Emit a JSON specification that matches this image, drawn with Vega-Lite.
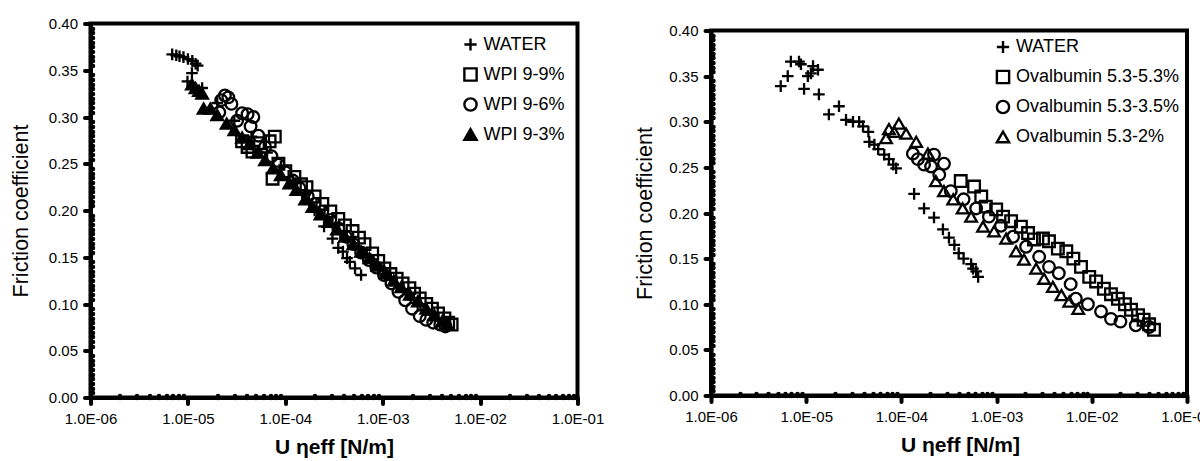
{
  "$schema": "https://vega.github.io/schema/vega-lite/v6.json",
  "background": "white",
  "padding": {"left": 7.5, "top": 14.5, "right": 0, "bottom": 0},
  "spacing": 25.5,
  "config": {
    "font": "Liberation Sans",
    "view": {"stroke": "black", "strokeWidth": 4}
  },
  "datasets": {
    "left": [
      {"series": "WATER", "u": 6.9e-6, "f": 0.367}, {"series": "WATER", "u": 7.6e-6, "f": 0.366}, {"series": "WATER", "u": 8.2e-6, "f": 0.365}, {"series": "WATER", "u": 9.0e-6, "f": 0.364}, {"series": "WATER", "u": 1.0e-5, "f": 0.362}, {"series": "WATER", "u": 1.11e-5, "f": 0.36}, {"series": "WATER", "u": 1.2e-5, "f": 0.357}, {"series": "WATER", "u": 1.26e-5, "f": 0.355}, {"series": "WATER", "u": 1.1e-5, "f": 0.347}, {"series": "WATER", "u": 9.9e-6, "f": 0.338}, {"series": "WATER", "u": 1.4e-5, "f": 0.331}, {"series": "WATER", "u": 2.0e-5, "f": 0.315}, {"series": "WATER", "u": 3.0e-5, "f": 0.296}, {"series": "WATER", "u": 4.5e-5, "f": 0.279}, {"series": "WATER", "u": 6.5e-5, "f": 0.262}, {"series": "WATER", "u": 9.0e-5, "f": 0.247}, {"series": "WATER", "u": 1.2e-4, "f": 0.232}, {"series": "WATER", "u": 1.6e-4, "f": 0.217}, {"series": "WATER", "u": 2.0e-4, "f": 0.2}, {"series": "WATER", "u": 2.5e-4, "f": 0.183}, {"series": "WATER", "u": 3.05e-4, "f": 0.17}, {"series": "WATER", "u": 3.5e-4, "f": 0.16}, {"series": "WATER", "u": 3.9e-4, "f": 0.156}, {"series": "WATER", "u": 4.3e-4, "f": 0.149}, {"series": "WATER", "u": 4.6e-4, "f": 0.145}, {"series": "WATER", "u": 5.2e-4, "f": 0.138}, {"series": "WATER", "u": 6.0e-4, "f": 0.131},
      {"series": "WPI 9-9%", "u": 3.6e-5, "f": 0.274}, {"series": "WPI 9-9%", "u": 4.1e-5, "f": 0.268}, {"series": "WPI 9-9%", "u": 4.6e-5, "f": 0.263}, {"series": "WPI 9-9%", "u": 5.5e-5, "f": 0.272}, {"series": "WPI 9-9%", "u": 6.9e-5, "f": 0.274}, {"series": "WPI 9-9%", "u": 7.8e-5, "f": 0.279}, {"series": "WPI 9-9%", "u": 7.4e-5, "f": 0.234}, {"series": "WPI 9-9%", "u": 8.5e-5, "f": 0.25}, {"series": "WPI 9-9%", "u": 1.0e-4, "f": 0.242}, {"series": "WPI 9-9%", "u": 1.24e-4, "f": 0.236}, {"series": "WPI 9-9%", "u": 1.45e-4, "f": 0.228}, {"series": "WPI 9-9%", "u": 1.65e-4, "f": 0.225}, {"series": "WPI 9-9%", "u": 2.0e-4, "f": 0.215}, {"series": "WPI 9-9%", "u": 2.4e-4, "f": 0.207}, {"series": "WPI 9-9%", "u": 2.9e-4, "f": 0.199}, {"series": "WPI 9-9%", "u": 3.5e-4, "f": 0.191}, {"series": "WPI 9-9%", "u": 4.1e-4, "f": 0.184}, {"series": "WPI 9-9%", "u": 4.9e-4, "f": 0.178}, {"series": "WPI 9-9%", "u": 5.7e-4, "f": 0.171}, {"series": "WPI 9-9%", "u": 6.5e-4, "f": 0.164}, {"series": "WPI 9-9%", "u": 7.8e-4, "f": 0.154}, {"series": "WPI 9-9%", "u": 9.0e-4, "f": 0.146}, {"series": "WPI 9-9%", "u": 1.04e-3, "f": 0.138}, {"series": "WPI 9-9%", "u": 1.2e-3, "f": 0.132}, {"series": "WPI 9-9%", "u": 1.39e-3, "f": 0.127}, {"series": "WPI 9-9%", "u": 1.6e-3, "f": 0.122}, {"series": "WPI 9-9%", "u": 1.88e-3, "f": 0.117}, {"series": "WPI 9-9%", "u": 2.1e-3, "f": 0.111}, {"series": "WPI 9-9%", "u": 2.4e-3, "f": 0.106}, {"series": "WPI 9-9%", "u": 2.8e-3, "f": 0.1}, {"series": "WPI 9-9%", "u": 3.2e-3, "f": 0.095}, {"series": "WPI 9-9%", "u": 3.7e-3, "f": 0.09}, {"series": "WPI 9-9%", "u": 4.3e-3, "f": 0.0845}, {"series": "WPI 9-9%", "u": 4.7e-3, "f": 0.08}, {"series": "WPI 9-9%", "u": 5.1e-3, "f": 0.078},
      {"series": "WPI 9-6%", "u": 2.2e-5, "f": 0.318}, {"series": "WPI 9-6%", "u": 2.4e-5, "f": 0.323}, {"series": "WPI 9-6%", "u": 2.6e-5, "f": 0.321}, {"series": "WPI 9-6%", "u": 2.8e-5, "f": 0.314}, {"series": "WPI 9-6%", "u": 2.1e-5, "f": 0.305}, {"series": "WPI 9-6%", "u": 3.2e-5, "f": 0.296}, {"series": "WPI 9-6%", "u": 3.6e-5, "f": 0.304}, {"series": "WPI 9-6%", "u": 4.1e-5, "f": 0.303}, {"series": "WPI 9-6%", "u": 4.7e-5, "f": 0.3}, {"series": "WPI 9-6%", "u": 4.4e-5, "f": 0.29}, {"series": "WPI 9-6%", "u": 5.3e-5, "f": 0.28}, {"series": "WPI 9-6%", "u": 6.2e-5, "f": 0.268}, {"series": "WPI 9-6%", "u": 7.2e-5, "f": 0.258}, {"series": "WPI 9-6%", "u": 8.5e-5, "f": 0.249}, {"series": "WPI 9-6%", "u": 1.0e-4, "f": 0.241}, {"series": "WPI 9-6%", "u": 1.2e-4, "f": 0.232}, {"series": "WPI 9-6%", "u": 1.4e-4, "f": 0.224}, {"series": "WPI 9-6%", "u": 1.7e-4, "f": 0.215}, {"series": "WPI 9-6%", "u": 2.0e-4, "f": 0.207}, {"series": "WPI 9-6%", "u": 2.4e-4, "f": 0.199}, {"series": "WPI 9-6%", "u": 2.9e-4, "f": 0.19}, {"series": "WPI 9-6%", "u": 3.5e-4, "f": 0.181}, {"series": "WPI 9-6%", "u": 4.2e-4, "f": 0.172}, {"series": "WPI 9-6%", "u": 5.0e-4, "f": 0.164}, {"series": "WPI 9-6%", "u": 6.0e-4, "f": 0.155}, {"series": "WPI 9-6%", "u": 7.2e-4, "f": 0.147}, {"series": "WPI 9-6%", "u": 8.6e-4, "f": 0.139}, {"series": "WPI 9-6%", "u": 1.03e-3, "f": 0.131}, {"series": "WPI 9-6%", "u": 1.23e-3, "f": 0.122}, {"series": "WPI 9-6%", "u": 1.45e-3, "f": 0.113}, {"series": "WPI 9-6%", "u": 1.7e-3, "f": 0.104}, {"series": "WPI 9-6%", "u": 2.0e-3, "f": 0.095}, {"series": "WPI 9-6%", "u": 2.4e-3, "f": 0.087}, {"series": "WPI 9-6%", "u": 2.8e-3, "f": 0.083}, {"series": "WPI 9-6%", "u": 3.3e-3, "f": 0.08}, {"series": "WPI 9-6%", "u": 3.9e-3, "f": 0.078}, {"series": "WPI 9-6%", "u": 4.4e-3, "f": 0.076},
      {"series": "WPI 9-3%", "u": 1.1e-5, "f": 0.335}, {"series": "WPI 9-3%", "u": 1.2e-5, "f": 0.331}, {"series": "WPI 9-3%", "u": 1.3e-5, "f": 0.328}, {"series": "WPI 9-3%", "u": 1.4e-5, "f": 0.325}, {"series": "WPI 9-3%", "u": 1.45e-5, "f": 0.309}, {"series": "WPI 9-3%", "u": 1.7e-5, "f": 0.309}, {"series": "WPI 9-3%", "u": 2.0e-5, "f": 0.302}, {"series": "WPI 9-3%", "u": 2.5e-5, "f": 0.293}, {"series": "WPI 9-3%", "u": 3.0e-5, "f": 0.286}, {"series": "WPI 9-3%", "u": 3.6e-5, "f": 0.278}, {"series": "WPI 9-3%", "u": 4.3e-5, "f": 0.271}, {"series": "WPI 9-3%", "u": 5.2e-5, "f": 0.262}, {"series": "WPI 9-3%", "u": 6.2e-5, "f": 0.254}, {"series": "WPI 9-3%", "u": 7.5e-5, "f": 0.245}, {"series": "WPI 9-3%", "u": 9.0e-5, "f": 0.238}, {"series": "WPI 9-3%", "u": 1.1e-4, "f": 0.229}, {"series": "WPI 9-3%", "u": 1.3e-4, "f": 0.222}, {"series": "WPI 9-3%", "u": 1.6e-4, "f": 0.212}, {"series": "WPI 9-3%", "u": 1.9e-4, "f": 0.204}, {"series": "WPI 9-3%", "u": 2.3e-4, "f": 0.196}, {"series": "WPI 9-3%", "u": 2.8e-4, "f": 0.188}, {"series": "WPI 9-3%", "u": 3.4e-4, "f": 0.18}, {"series": "WPI 9-3%", "u": 4.1e-4, "f": 0.172}, {"series": "WPI 9-3%", "u": 5.0e-4, "f": 0.164}, {"series": "WPI 9-3%", "u": 6.0e-4, "f": 0.156}, {"series": "WPI 9-3%", "u": 7.3e-4, "f": 0.149}, {"series": "WPI 9-3%", "u": 8.8e-4, "f": 0.141}, {"series": "WPI 9-3%", "u": 1.07e-3, "f": 0.133}, {"series": "WPI 9-3%", "u": 1.3e-3, "f": 0.125}, {"series": "WPI 9-3%", "u": 1.55e-3, "f": 0.118}, {"series": "WPI 9-3%", "u": 1.9e-3, "f": 0.11}, {"series": "WPI 9-3%", "u": 2.3e-3, "f": 0.103}, {"series": "WPI 9-3%", "u": 2.8e-3, "f": 0.095}, {"series": "WPI 9-3%", "u": 3.4e-3, "f": 0.088}, {"series": "WPI 9-3%", "u": 4.1e-3, "f": 0.082}, {"series": "WPI 9-3%", "u": 4.6e-3, "f": 0.078}
    ],
    "right": [
      {"series": "WATER", "u": 5.4e-6, "f": 0.339}, {"series": "WATER", "u": 6.4e-6, "f": 0.35}, {"series": "WATER", "u": 6.9e-6, "f": 0.366}, {"series": "WATER", "u": 8.4e-6, "f": 0.366}, {"series": "WATER", "u": 8.8e-6, "f": 0.363}, {"series": "WATER", "u": 9.5e-6, "f": 0.336}, {"series": "WATER", "u": 1.04e-5, "f": 0.35}, {"series": "WATER", "u": 1.12e-5, "f": 0.353}, {"series": "WATER", "u": 1.18e-5, "f": 0.361}, {"series": "WATER", "u": 1.33e-5, "f": 0.357}, {"series": "WATER", "u": 1.36e-5, "f": 0.33}, {"series": "WATER", "u": 1.73e-5, "f": 0.308}, {"series": "WATER", "u": 2.21e-5, "f": 0.317}, {"series": "WATER", "u": 2.62e-5, "f": 0.302}, {"series": "WATER", "u": 3.1e-5, "f": 0.3}, {"series": "WATER", "u": 3.6e-5, "f": 0.3}, {"series": "WATER", "u": 3.95e-5, "f": 0.295}, {"series": "WATER", "u": 4.5e-5, "f": 0.289}, {"series": "WATER", "u": 4.6e-5, "f": 0.278}, {"series": "WATER", "u": 5.2e-5, "f": 0.275}, {"series": "WATER", "u": 5.7e-5, "f": 0.27}, {"series": "WATER", "u": 6.6e-5, "f": 0.264}, {"series": "WATER", "u": 7.4e-5, "f": 0.259}, {"series": "WATER", "u": 8.2e-5, "f": 0.253}, {"series": "WATER", "u": 8.8e-5, "f": 0.249}, {"series": "WATER", "u": 1.36e-4, "f": 0.221}, {"series": "WATER", "u": 1.73e-4, "f": 0.205}, {"series": "WATER", "u": 2.2e-4, "f": 0.195}, {"series": "WATER", "u": 2.73e-4, "f": 0.182}, {"series": "WATER", "u": 3.16e-4, "f": 0.173}, {"series": "WATER", "u": 3.6e-4, "f": 0.165}, {"series": "WATER", "u": 4.0e-4, "f": 0.156}, {"series": "WATER", "u": 4.5e-4, "f": 0.15}, {"series": "WATER", "u": 5.4e-4, "f": 0.144}, {"series": "WATER", "u": 5.65e-4, "f": 0.139}, {"series": "WATER", "u": 6.1e-4, "f": 0.136}, {"series": "WATER", "u": 6.4e-4, "f": 0.13},
      {"series": "Ovalbumin 5.3-5.3%", "u": 4.2e-4, "f": 0.235}, {"series": "Ovalbumin 5.3-5.3%", "u": 5.8e-4, "f": 0.229}, {"series": "Ovalbumin 5.3-5.3%", "u": 6.9e-4, "f": 0.218}, {"series": "Ovalbumin 5.3-5.3%", "u": 7.7e-4, "f": 0.207}, {"series": "Ovalbumin 5.3-5.3%", "u": 9.9e-4, "f": 0.204}, {"series": "Ovalbumin 5.3-5.3%", "u": 1.17e-3, "f": 0.196}, {"series": "Ovalbumin 5.3-5.3%", "u": 1.42e-3, "f": 0.191}, {"series": "Ovalbumin 5.3-5.3%", "u": 1.8e-3, "f": 0.185}, {"series": "Ovalbumin 5.3-5.3%", "u": 2.14e-3, "f": 0.178}, {"series": "Ovalbumin 5.3-5.3%", "u": 2.47e-3, "f": 0.171}, {"series": "Ovalbumin 5.3-5.3%", "u": 3.07e-3, "f": 0.172}, {"series": "Ovalbumin 5.3-5.3%", "u": 3.55e-3, "f": 0.169}, {"series": "Ovalbumin 5.3-5.3%", "u": 4.4e-3, "f": 0.161}, {"series": "Ovalbumin 5.3-5.3%", "u": 5.4e-3, "f": 0.158}, {"series": "Ovalbumin 5.3-5.3%", "u": 6.4e-3, "f": 0.15}, {"series": "Ovalbumin 5.3-5.3%", "u": 7.7e-3, "f": 0.141}, {"series": "Ovalbumin 5.3-5.3%", "u": 9.4e-3, "f": 0.13}, {"series": "Ovalbumin 5.3-5.3%", "u": 1.11e-2, "f": 0.125}, {"series": "Ovalbumin 5.3-5.3%", "u": 1.34e-2, "f": 0.117}, {"series": "Ovalbumin 5.3-5.3%", "u": 1.59e-2, "f": 0.111}, {"series": "Ovalbumin 5.3-5.3%", "u": 1.88e-2, "f": 0.106}, {"series": "Ovalbumin 5.3-5.3%", "u": 2.23e-2, "f": 0.1}, {"series": "Ovalbumin 5.3-5.3%", "u": 2.58e-2, "f": 0.094}, {"series": "Ovalbumin 5.3-5.3%", "u": 3.06e-2, "f": 0.088}, {"series": "Ovalbumin 5.3-5.3%", "u": 3.5e-2, "f": 0.083}, {"series": "Ovalbumin 5.3-5.3%", "u": 4.0e-2, "f": 0.078}, {"series": "Ovalbumin 5.3-5.3%", "u": 4.5e-2, "f": 0.072},
      {"series": "Ovalbumin 5.3-3.5%", "u": 1.32e-4, "f": 0.265}, {"series": "Ovalbumin 5.3-3.5%", "u": 1.49e-4, "f": 0.259}, {"series": "Ovalbumin 5.3-3.5%", "u": 1.73e-4, "f": 0.253}, {"series": "Ovalbumin 5.3-3.5%", "u": 2.05e-4, "f": 0.251}, {"series": "Ovalbumin 5.3-3.5%", "u": 2.2e-4, "f": 0.264}, {"series": "Ovalbumin 5.3-3.5%", "u": 2.8e-4, "f": 0.254}, {"series": "Ovalbumin 5.3-3.5%", "u": 2.5e-4, "f": 0.242}, {"series": "Ovalbumin 5.3-3.5%", "u": 3.3e-4, "f": 0.224}, {"series": "Ovalbumin 5.3-3.5%", "u": 4.5e-4, "f": 0.215}, {"series": "Ovalbumin 5.3-3.5%", "u": 6.1e-4, "f": 0.205}, {"series": "Ovalbumin 5.3-3.5%", "u": 8.3e-4, "f": 0.196}, {"series": "Ovalbumin 5.3-3.5%", "u": 1.11e-3, "f": 0.186}, {"series": "Ovalbumin 5.3-3.5%", "u": 1.49e-3, "f": 0.174}, {"series": "Ovalbumin 5.3-3.5%", "u": 2.04e-3, "f": 0.163}, {"series": "Ovalbumin 5.3-3.5%", "u": 2.8e-3, "f": 0.152}, {"series": "Ovalbumin 5.3-3.5%", "u": 3.55e-3, "f": 0.141}, {"series": "Ovalbumin 5.3-3.5%", "u": 4.5e-3, "f": 0.134}, {"series": "Ovalbumin 5.3-3.5%", "u": 6.0e-3, "f": 0.122}, {"series": "Ovalbumin 5.3-3.5%", "u": 6.8e-3, "f": 0.106}, {"series": "Ovalbumin 5.3-3.5%", "u": 9.1e-3, "f": 0.1}, {"series": "Ovalbumin 5.3-3.5%", "u": 1.25e-2, "f": 0.092}, {"series": "Ovalbumin 5.3-3.5%", "u": 1.59e-2, "f": 0.084}, {"series": "Ovalbumin 5.3-3.5%", "u": 2.0e-2, "f": 0.081}, {"series": "Ovalbumin 5.3-3.5%", "u": 2.9e-2, "f": 0.077}, {"series": "Ovalbumin 5.3-3.5%", "u": 4.0e-2, "f": 0.075},
      {"series": "Ovalbumin 5.3-2%", "u": 6.9e-5, "f": 0.282}, {"series": "Ovalbumin 5.3-2%", "u": 7.4e-5, "f": 0.292}, {"series": "Ovalbumin 5.3-2%", "u": 8.4e-5, "f": 0.289}, {"series": "Ovalbumin 5.3-2%", "u": 9.4e-5, "f": 0.298}, {"series": "Ovalbumin 5.3-2%", "u": 1.12e-4, "f": 0.287}, {"series": "Ovalbumin 5.3-2%", "u": 1.43e-4, "f": 0.278}, {"series": "Ovalbumin 5.3-2%", "u": 1.9e-4, "f": 0.265}, {"series": "Ovalbumin 5.3-2%", "u": 2.3e-4, "f": 0.235}, {"series": "Ovalbumin 5.3-2%", "u": 2.8e-4, "f": 0.224}, {"series": "Ovalbumin 5.3-2%", "u": 3.5e-4, "f": 0.215}, {"series": "Ovalbumin 5.3-2%", "u": 4.4e-4, "f": 0.205}, {"series": "Ovalbumin 5.3-2%", "u": 5.4e-4, "f": 0.196}, {"series": "Ovalbumin 5.3-2%", "u": 7.2e-4, "f": 0.185}, {"series": "Ovalbumin 5.3-2%", "u": 9.4e-4, "f": 0.18}, {"series": "Ovalbumin 5.3-2%", "u": 1.26e-3, "f": 0.172}, {"series": "Ovalbumin 5.3-2%", "u": 1.6e-3, "f": 0.158}, {"series": "Ovalbumin 5.3-2%", "u": 1.94e-3, "f": 0.149}, {"series": "Ovalbumin 5.3-2%", "u": 2.6e-3, "f": 0.139}, {"series": "Ovalbumin 5.3-2%", "u": 3.15e-3, "f": 0.128}, {"series": "Ovalbumin 5.3-2%", "u": 3.9e-3, "f": 0.119}, {"series": "Ovalbumin 5.3-2%", "u": 4.8e-3, "f": 0.11}, {"series": "Ovalbumin 5.3-2%", "u": 5.8e-3, "f": 0.103}, {"series": "Ovalbumin 5.3-2%", "u": 7.2e-3, "f": 0.095}
    ]
  },
  "hconcat": [
    {
      "width": 487,
      "height": 374,
      "data": {"name": "left"},
      "mark": {"type": "point", "stroke": "black", "strokeWidth": 2.3, "size": 135, "opacity": 1},
      "encoding": {
        "x": {
          "field": "u", "type": "quantitative",
          "scale": {"type": "log", "domain": [1e-6, 0.1], "nice": false},
          "axis": {
            "title": "U ηeff [N/m]", "titleFontSize": 21, "titleFontWeight": "bold", "titleColor": "black", "titlePadding": 10,
            "values": [1e-6,2e-6,3e-6,4e-6,5e-6,6e-6,7e-6,8e-6,9e-6,1e-5,2e-5,3e-5,4e-5,5e-5,6e-5,7e-5,8e-5,9e-5,1e-4,2e-4,3e-4,4e-4,5e-4,6e-4,7e-4,8e-4,9e-4,1e-3,2e-3,3e-3,4e-3,5e-3,6e-3,7e-3,8e-3,9e-3,1e-2,2e-2,3e-2,4e-2,5e-2,6e-2,7e-2,8e-2,9e-2,0.1],
            "labelExpr": "abs(log(datum.value)/LN10 - round(log(datum.value)/LN10)) < 0.01 ? '1.0E-0' + (-round(log(datum.value)/LN10)) : ''",
            "tickSize": {"condition": {"test": "abs(log(datum.value)/LN10 - round(log(datum.value)/LN10)) < 0.01", "value": 6}, "value": -2},
            "tickWidth": {"condition": {"test": "abs(log(datum.value)/LN10 - round(log(datum.value)/LN10)) < 0.01", "value": 4}, "value": 4.5},
            "tickCap": "round", "tickColor": "black", "domainColor": "black", "domainWidth": 4,
            "labelFontSize": 15, "labelColor": "black", "labelPadding": 8, "labelFlush": false, "labelOverlap": false, "labelBound": false, "grid": false
          }
        },
        "y": {
          "field": "f", "type": "quantitative",
          "scale": {"domain": [0, 0.4], "nice": false, "zero": false},
          "axis": {
            "title": "Friction coefficient", "titleFontSize": 21.5, "titleFontWeight": "normal", "titleColor": "black", "titlePadding": 16,
            "values": [0,0.005,0.01,0.015,0.02,0.025,0.03,0.035,0.04,0.045,0.05,0.055,0.06,0.065,0.07,0.075,0.08,0.085,0.09,0.095,0.1,0.105,0.11,0.115,0.12,0.125,0.13,0.135,0.14,0.145,0.15,0.155,0.16,0.165,0.17,0.175,0.18,0.185,0.19,0.195,0.2,0.205,0.21,0.215,0.22,0.225,0.23,0.235,0.24,0.245,0.25,0.255,0.26,0.265,0.27,0.275,0.28,0.285,0.29,0.295,0.3,0.305,0.31,0.315,0.32,0.325,0.33,0.335,0.34,0.345,0.35,0.355,0.36,0.365,0.37,0.375,0.38,0.385,0.39,0.395,0.4],
            "labelExpr": "abs(datum.value*20 - round(datum.value*20)) < 0.01 ? format(datum.value, '.2f') : ''",
            "tickSize": {"condition": {"test": "abs(datum.value*20 - round(datum.value*20)) < 0.01", "value": 6}, "value": -2},
            "tickWidth": {"condition": {"test": "abs(datum.value*20 - round(datum.value*20)) < 0.01", "value": 4}, "value": 4.5},
            "tickCap": "round", "tickColor": "black", "domainColor": "black", "domainWidth": 4,
            "labelFontSize": 15, "labelColor": "black", "labelPadding": 7, "labelFlush": false, "labelOverlap": false, "labelBound": false, "grid": false
          }
        },
        "shape": {
          "field": "series", "type": "nominal",
          "scale": {"domain": ["WATER", "WPI 9-9%", "WPI 9-6%", "WPI 9-3%"], "range": ["M-1,0H1M0,-1V1", "square", "circle", "triangle-up"]},
          "legend": {"orient": "none", "legendX": 371, "legendY": 12, "title": null, "padding": 0, "labelFontSize": 18, "labelColor": "black", "labelOffset": 4, "labelLimit": 400, "symbolSize": 150, "symbolStrokeWidth": 2.4, "symbolStrokeColor": "black", "symbolOpacity": 1, "rowPadding": 8,
            "encode": {"symbols": {"update": {"stroke": {"value": "black"}, "strokeWidth": {"value": 2.4}, "opacity": {"value": 1}}}}}
        },
        "fill": {
          "field": "series", "type": "nominal",
          "scale": {"domain": ["WATER", "WPI 9-9%", "WPI 9-6%", "WPI 9-3%"], "range": ["transparent", "transparent", "transparent", "black"]},
          "legend": {"orient": "none", "legendX": 371, "legendY": 12, "title": null, "padding": 0, "labelFontSize": 18, "labelColor": "black", "labelOffset": 4, "labelLimit": 400, "symbolSize": 150, "symbolStrokeWidth": 2.4, "symbolStrokeColor": "black", "symbolOpacity": 1, "rowPadding": 8,
            "encode": {"symbols": {"update": {"stroke": {"value": "black"}, "strokeWidth": {"value": 2.4}, "opacity": {"value": 1}}}}}
        }
      }
    },
    {
      "spacing": 6,
      "bounds": "flush",
      "vconcat": [
        {
          "width": 476,
          "height": 1,
          "data": {"values": []},
          "mark": "point",
          "view": {"stroke": null}
        },
        {
          "width": 476,
          "height": 365,
          "data": {"name": "right"},
          "mark": {"type": "point", "stroke": "black", "strokeWidth": 2.3, "size": 135, "opacity": 1},
          "encoding": {
            "x": {
              "field": "u", "type": "quantitative",
              "scale": {"type": "log", "domain": [1e-6, 0.1], "nice": false},
              "axis": {
                "title": "U ηeff [N/m]", "titleFontSize": 21, "titleFontWeight": "bold", "titleColor": "black", "titlePadding": 10, "titleX": 249,
                "values": [1e-6,2e-6,3e-6,4e-6,5e-6,6e-6,7e-6,8e-6,9e-6,1e-5,2e-5,3e-5,4e-5,5e-5,6e-5,7e-5,8e-5,9e-5,1e-4,2e-4,3e-4,4e-4,5e-4,6e-4,7e-4,8e-4,9e-4,1e-3,2e-3,3e-3,4e-3,5e-3,6e-3,7e-3,8e-3,9e-3,1e-2,2e-2,3e-2,4e-2,5e-2,6e-2,7e-2,8e-2,9e-2,0.1],
                "labelExpr": "abs(log(datum.value)/LN10 - round(log(datum.value)/LN10)) < 0.01 ? '1.0E-0' + (-round(log(datum.value)/LN10)) : ''",
                "tickSize": {"condition": {"test": "abs(log(datum.value)/LN10 - round(log(datum.value)/LN10)) < 0.01", "value": 6}, "value": -2},
                "tickWidth": {"condition": {"test": "abs(log(datum.value)/LN10 - round(log(datum.value)/LN10)) < 0.01", "value": 4}, "value": 4.5},
                "tickCap": "round", "tickColor": "black", "domainColor": "black", "domainWidth": 4,
                "labelFontSize": 15, "labelColor": "black", "labelPadding": 8, "labelFlush": false, "labelOverlap": false, "labelBound": false, "grid": false
              }
            },
            "y": {
              "field": "f", "type": "quantitative",
              "scale": {"domain": [0, 0.4], "nice": false, "zero": false},
              "axis": {
                "title": "Friction coefficient", "titleFontSize": 21.5, "titleFontWeight": "normal", "titleColor": "black", "titlePadding": 12,
                "values": [0,0.005,0.01,0.015,0.02,0.025,0.03,0.035,0.04,0.045,0.05,0.055,0.06,0.065,0.07,0.075,0.08,0.085,0.09,0.095,0.1,0.105,0.11,0.115,0.12,0.125,0.13,0.135,0.14,0.145,0.15,0.155,0.16,0.165,0.17,0.175,0.18,0.185,0.19,0.195,0.2,0.205,0.21,0.215,0.22,0.225,0.23,0.235,0.24,0.245,0.25,0.255,0.26,0.265,0.27,0.275,0.28,0.285,0.29,0.295,0.3,0.305,0.31,0.315,0.32,0.325,0.33,0.335,0.34,0.345,0.35,0.355,0.36,0.365,0.37,0.375,0.38,0.385,0.39,0.395,0.4],
                "labelExpr": "abs(datum.value*20 - round(datum.value*20)) < 0.01 ? format(datum.value, '.2f') : ''",
                "tickSize": {"condition": {"test": "abs(datum.value*20 - round(datum.value*20)) < 0.01", "value": 6}, "value": -2},
                "tickWidth": {"condition": {"test": "abs(datum.value*20 - round(datum.value*20)) < 0.01", "value": 4}, "value": 4.5},
                "tickCap": "round", "tickColor": "black", "domainColor": "black", "domainWidth": 4,
                "labelFontSize": 15, "labelColor": "black", "labelPadding": 7, "labelFlush": false, "labelOverlap": false, "labelBound": false, "grid": false
              }
            },
            "shape": {
              "field": "series", "type": "nominal",
              "scale": {"domain": ["WATER", "Ovalbumin 5.3-5.3%", "Ovalbumin 5.3-3.5%", "Ovalbumin 5.3-2%"], "range": ["M-1,0H1M0,-1V1", "square", "circle", "triangle-up"]},
              "legend": {"orient": "none", "legendX": 283, "legendY": 14.5, "title": null, "padding": 0, "labelFontSize": 18, "labelColor": "black", "labelOffset": 4, "labelLimit": 400, "symbolSize": 150, "symbolStrokeWidth": 2.4, "symbolStrokeColor": "black", "symbolOpacity": 1, "rowPadding": 8,
                "encode": {"symbols": {"update": {"stroke": {"value": "black"}, "strokeWidth": {"value": 2.4}, "opacity": {"value": 1}}}}}
            },
            "fill": {
              "field": "series", "type": "nominal",
              "scale": {"domain": ["WATER", "Ovalbumin 5.3-5.3%", "Ovalbumin 5.3-3.5%", "Ovalbumin 5.3-2%"], "range": ["transparent", "transparent", "transparent", "transparent"]},
              "legend": {"orient": "none", "legendX": 283, "legendY": 14.5, "title": null, "padding": 0, "labelFontSize": 18, "labelColor": "black", "labelOffset": 4, "labelLimit": 400, "symbolSize": 150, "symbolStrokeWidth": 2.4, "symbolStrokeColor": "black", "symbolOpacity": 1, "rowPadding": 8,
                "encode": {"symbols": {"update": {"stroke": {"value": "black"}, "strokeWidth": {"value": 2.4}, "opacity": {"value": 1}}}}}
            }
          }
        }
      ]
    }
  ],
  "resolve": {"scale": {"shape": "independent", "fill": "independent"}, "legend": {"shape": "independent", "fill": "independent"}}
}
